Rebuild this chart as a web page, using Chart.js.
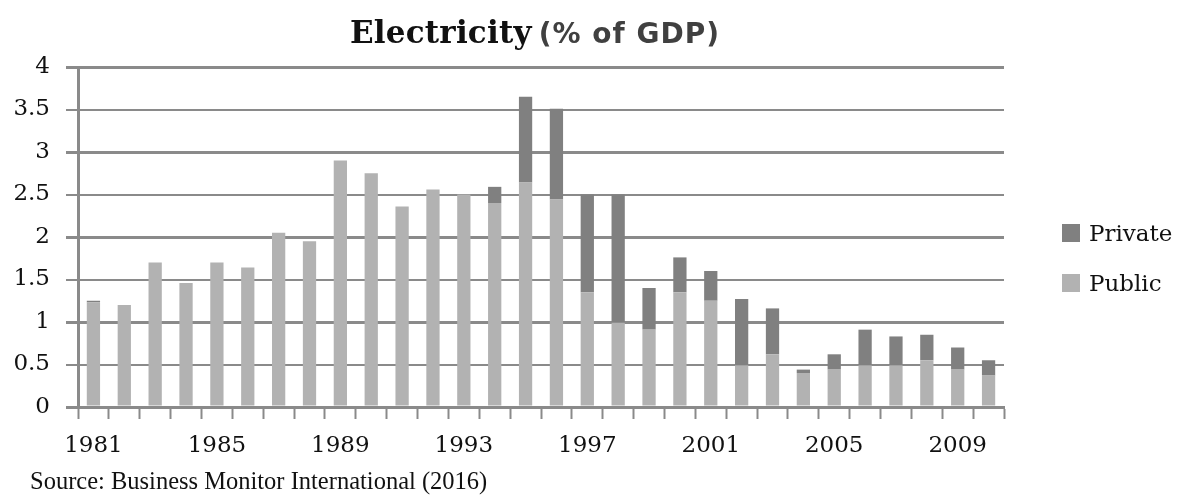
<!DOCTYPE html>
<html>
<head>
<meta charset="utf-8">
<script src="https://cdn.jsdelivr.net/npm/chart.js@4.4.1/dist/chart.umd.min.js"></script>
<style>
  html, body { margin: 0; padding: 0; background: #fff; }
  #wrap { position: relative; width: 1178px; height: 498px; overflow: hidden; }
  #chart { position: absolute; left: 0; top: 0; }
  #title { position: absolute; left: 0; width: 1070px; top: 14px; text-align: center; white-space: nowrap; line-height: 36px; }
  #title .main { font-family: "DejaVu Serif", serif; font-weight: bold; font-size: 31px; color: #111; letter-spacing: 0.2px; }
  #title .unit { font-family: "DejaVu Sans", sans-serif; font-weight: bold; font-size: 28px; color: #404040; letter-spacing: 1px; margin-left: 7px; }
  #legend { position: absolute; left: 1062px; top: 220px; font-family: "DejaVu Serif", serif; font-size: 23px; color: #111; }
  #legend .item { display: flex; align-items: center; height: 26px; margin-bottom: 24px; }
  #legend .box { width: 18px; height: 18px; margin-right: 9px; }
  #source { position: absolute; left: 30px; top: 467px; font-family: "Liberation Serif", serif; font-size: 24.5px; color: #111; white-space: nowrap; }
</style>
</head>
<body>
<div id="wrap">
  <canvas id="chart" width="1178" height="498"></canvas>
  <div id="title"><span class="main">Electricity</span><span class="unit">(% of GDP)</span></div>
  <div id="legend"></div>
  <div id="source">Source: Business Monitor International (2016)</div>
</div>
<script>
const years = [1981, 1982, 1983, 1984, 1985, 1986, 1987, 1988, 1989, 1990,
  1991, 1992, 1993, 1994, 1995, 1996, 1997, 1998, 1999, 2000,
  2001, 2002, 2003, 2004, 2005, 2006, 2007, 2008, 2009, 2010];
const publicShare = [1.23, 1.2, 1.7, 1.46, 1.7, 1.64, 2.05, 1.95, 2.9, 2.75,
  2.36, 2.56, 2.5, 2.4, 2.64, 2.44, 1.35, 0.99, 0.91, 1.35,
  1.25, 0.49, 0.62, 0.4, 0.44, 0.49, 0.49, 0.55, 0.44, 0.37];
const privateShare = [0.02, 0, 0, 0, 0, 0, 0, 0, 0, 0,
  0, 0, 0, 0.19, 1.01, 1.07, 1.15, 1.51, 0.49, 0.41,
  0.35, 0.78, 0.54, 0.04, 0.18, 0.42, 0.34, 0.3, 0.26, 0.18];
const yTicks = [0, 0.5, 1, 1.5, 2, 2.5, 3, 3.5, 4];

const publicColor = "#b2b2b2";
const privateColor = "#808080";
const gridColor = "#8a8a8a";

// legend: Private on top, Public below
const legend = document.getElementById("legend");
[["Private", privateColor], ["Public", publicColor]].forEach(([name, color]) => {
  const item = document.createElement("div");
  item.className = "item";
  const box = document.createElement("span");
  box.className = "box";
  box.style.background = color;
  item.appendChild(box);
  item.appendChild(document.createTextNode(name));
  legend.appendChild(item);
});

const tickFont = { family: "DejaVu Serif", size: 23 };

var ctx = document.getElementById("chart").getContext("2d");
var chart = new Chart(ctx, {
  type: "bar",
  data: {
    labels: years.map(String),
    datasets: [
      { label: "Public", data: publicShare, backgroundColor: publicColor },
      { label: "Private", data: privateShare, backgroundColor: privateColor },
    ],
  },
  options: {
    responsive: false,
    animation: false,
    layout: { padding: { left: 0, right: 174, top: 67, bottom: 0 } },
    datasets: { bar: { barPercentage: 1, categoryPercentage: 0.43 } },
    plugins: { legend: { display: false }, tooltip: { enabled: false } },
    scales: {
      x: {
        stacked: true,
        offset: true,
        afterFit: (scale) => { scale.height = 91; },
        grid: {
          offset: true,
          drawOnChartArea: false,
          drawTicks: true,
          tickLength: 12,
          tickWidth: 2,
          tickColor: gridColor,
        },
        border: { display: true, color: gridColor, width: 3 },
        ticks: {
          autoSkip: false,
          maxRotation: 0,
          padding: 13,
          color: "#111",
          font: tickFont,
          callback: function (value, index) {
            return index % 4 === 0 ? years[index] : "";
          },
        },
      },
      y: {
        stacked: true,
        min: 0,
        max: 4,
        afterFit: (scale) => { scale.width = 78; },
        afterBuildTicks: (scale) => { scale.ticks = yTicks.map((v) => ({ value: v })); },
        grid: {
          color: gridColor,
          lineWidth: (c) => (c.tick && Number.isInteger(c.tick.value) ? 3 : 2),
          drawTicks: true,
          tickLength: 12,
        },
        border: { display: true, color: gridColor, width: 3 },
        ticks: {
          padding: 16,
          color: "#111",
          font: tickFont,
          callback: (v) => String(v),
        },
      },
    },
  },
});
</script>
</body>
</html>
